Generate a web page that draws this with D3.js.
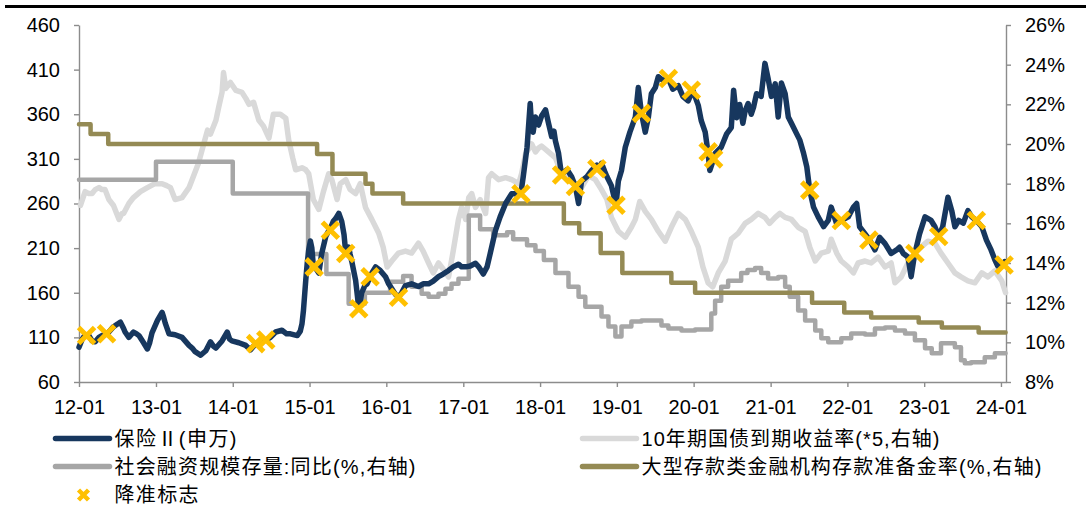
<!DOCTYPE html>
<html>
<head>
<meta charset="utf-8">
<script src="https://cdn.jsdelivr.net/npm/d3@7"></script>
<style>
  body { margin: 0; background: #fff; }
  svg text { font-family: "Liberation Sans", Arial, "Noto Sans CJK SC", sans-serif; fill: #000; }
</style>
</head>
<body>
<svg id="chart" width="1091" height="507"></svg>
<script>
// values; time as decimal year
const insurance = [
  [2012.00,99],[2012.04,108],[2012.08,113],[2012.13,112],[2012.17,106],[2012.21,105],[2012.26,110],[2012.30,112],
  [2012.36,114],[2012.39,116],[2012.45,122],[2012.50,125],[2012.54,127],[2012.58,120],[2012.60,116],[2012.65,110],
  [2012.71,116],[2012.75,114],[2012.78,112],[2012.84,104],[2012.89,97],[2012.92,104],[2012.95,115],[2013.02,129],
  [2013.08,138],[2013.10,133],[2013.12,126],[2013.17,114],[2013.25,113],[2013.34,110],[2013.43,101],[2013.47,98],
  [2013.51,94],[2013.58,90],[2013.65,95],[2013.71,105],[2013.75,100],[2013.78,98],[2013.86,106],[2013.93,116],
  [2013.96,108],[2013.99,106],[2014.08,104],[2014.17,101],[2014.23,96],[2014.30,103],[2014.36,106],[2014.43,107],
  [2014.49,110],[2014.56,116],[2014.64,118],[2014.70,114],[2014.75,114],[2014.84,112],[2014.88,117],[2014.90,125],
  [2014.92,140],[2014.95,174],[2014.97,193],[2014.99,208],[2015.01,218],[2015.03,210],[2015.05,190],[2015.09,186],
  [2015.12,182],[2015.16,204],[2015.21,223],[2015.24,228],[2015.27,232],[2015.31,240],[2015.34,243],[2015.38,249],
  [2015.42,240],[2015.45,225],[2015.47,205],[2015.51,211],[2015.53,203],[2015.55,195],[2015.60,174],[2015.64,143],
  [2015.66,150],[2015.68,160],[2015.72,168],[2015.75,170],[2015.79,178],[2015.81,182],[2015.86,189],[2015.92,185],
  [2015.99,178],[2016.03,170],[2016.09,162],[2016.12,158],[2016.16,155],[2016.20,160],[2016.25,168],[2016.33,170],
  [2016.42,167],[2016.48,170],[2016.55,170],[2016.61,173],[2016.68,178],[2016.74,181],[2016.81,185],[2016.87,189],
  [2016.94,192],[2016.98,189],[2017.03,189],[2017.09,190],[2017.16,193],[2017.20,189],[2017.26,181],[2017.31,189],
  [2017.35,204],[2017.42,230],[2017.48,245],[2017.55,260],[2017.63,271],[2017.70,271],[2017.75,272],[2017.78,290],
  [2017.83,323],[2017.87,372],[2017.89,345],[2017.91,340],[2017.94,357],[2017.96,350],[2017.98,348],[2018.02,358],
  [2018.07,365],[2018.11,350],[2018.15,335],[2018.18,341],[2018.20,330],[2018.24,316],[2018.28,292],[2018.31,295],
  [2018.35,298],[2018.41,290],[2018.46,279],[2018.50,260],[2018.54,285],[2018.61,290],[2018.67,297],[2018.74,303],
  [2018.78,300],[2018.80,305],[2018.84,296],[2018.87,290],[2018.93,280],[2018.99,258],[2019.02,285],[2019.06,297],
  [2019.11,323],[2019.17,340],[2019.24,357],[2019.28,390],[2019.32,361],[2019.37,340],[2019.41,357],[2019.45,383],
  [2019.50,390],[2019.54,402],[2019.60,398],[2019.67,400],[2019.73,388],[2019.80,392],[2019.86,380],[2019.93,375],
  [2019.99,387],[2020.06,370],[2020.10,353],[2020.15,340],[2020.19,316],[2020.21,297],[2020.26,310],[2020.28,316],
  [2020.36,323],[2020.43,338],[2020.49,345],[2020.52,387],[2020.56,356],[2020.60,371],[2020.64,350],[2020.67,364],
  [2020.71,372],[2020.75,360],[2020.78,368],[2020.82,383],[2020.88,380],[2020.93,417],[2020.97,400],[2021.01,380],
  [2021.06,394],[2021.10,357],[2021.14,395],[2021.19,383],[2021.23,357],[2021.27,350],[2021.34,338],[2021.38,331],
  [2021.43,316],[2021.47,301],[2021.51,275],[2021.56,256],[2021.62,245],[2021.69,234],[2021.75,241],[2021.79,256],
  [2021.86,237],[2021.92,241],[2022.01,245],[2022.08,256],[2022.12,260],[2022.16,234],[2022.23,226],[2022.29,219],
  [2022.36,208],[2022.42,222],[2022.49,215],[2022.57,204],[2022.64,208],[2022.68,211],[2022.73,204],[2022.79,200],
  [2022.83,178],[2022.86,195],[2022.88,204],[2022.94,226],[2023.01,245],[2023.09,241],[2023.14,234],[2023.19,223],
  [2023.24,234],[2023.31,267],[2023.36,252],[2023.40,234],[2023.45,241],[2023.51,238],[2023.57,252],[2023.62,245],
  [2023.68,241],[2023.75,234],[2023.81,219],[2023.87,208],[2023.92,197],[2023.96,190],[2024.03,191],[2024.05,195]
];

// 10y government bond yield x5, right axis
const bond10y = [
  [2012.02,16.9],[2012.08,17.6],[2012.13,17.5],[2012.17,17.5],[2012.21,17.7],[2012.26,17.8],[2012.30,17.7],[2012.34,17.7],
  [2012.39,17.2],[2012.45,16.9],[2012.49,16.5],[2012.52,16.2],[2012.56,16.5],[2012.58,16.5],[2012.65,17.0],[2012.71,17.3],
  [2012.80,17.6],[2012.89,17.8],[2012.99,18.0],[2013.08,18.0],[2013.14,17.9],[2013.19,17.8],[2013.25,17.2],[2013.34,17.3],
  [2013.43,17.8],[2013.49,18.4],[2013.55,19.0],[2013.60,19.7],[2013.67,20.7],[2013.71,20.5],[2013.78,21.2],[2013.82,21.9],
  [2013.86,22.6],[2013.88,23.6],[2013.91,22.8],[2013.93,22.9],[2013.97,23.1],[2014.04,22.7],[2014.12,22.6],[2014.17,22.3],
  [2014.21,22.0],[2014.27,22.1],[2014.34,21.2],[2014.40,20.9],[2014.47,20.3],[2014.53,21.5],[2014.62,21.5],[2014.69,21.3],
  [2014.73,20.2],[2014.78,19.3],[2014.82,18.7],[2014.90,18.8],[2014.95,18.7],[2014.99,18.5],[2015.05,17.2],[2015.12,16.7],
  [2015.18,17.6],[2015.25,18.5],[2015.29,18.2],[2015.36,17.2],[2015.40,18.0],[2015.47,18.2],[2015.53,17.7],[2015.60,17.5],
  [2015.66,18.0],[2015.73,16.8],[2015.81,16.2],[2015.90,15.5],[2015.96,14.8],[2016.01,13.8],[2016.07,14.1],[2016.16,14.5],
  [2016.25,14.6],[2016.33,14.5],[2016.42,15.0],[2016.48,14.6],[2016.55,14.0],[2016.61,13.5],[2016.68,14.0],[2016.74,13.7],
  [2016.81,13.3],[2016.87,14.6],[2016.94,16.2],[2016.98,16.8],[2017.03,16.2],[2017.07,17.3],[2017.11,17.5],[2017.16,16.8],
  [2017.22,17.2],[2017.29,16.5],[2017.33,18.3],[2017.37,18.5],[2017.46,18.2],[2017.55,18.3],[2017.63,18.2],[2017.72,18.0],
  [2017.76,18.5],[2017.81,19.5],[2017.89,20.0],[2017.94,19.6],[2017.98,19.8],[2018.02,19.9],[2018.11,19.6],[2018.20,19.3],
  [2018.28,18.5],[2018.37,18.2],[2018.46,18.0],[2018.54,17.8],[2018.63,18.4],[2018.72,18.2],[2018.80,17.7],[2018.87,17.2],
  [2018.93,16.3],[2019.02,15.6],[2019.11,15.3],[2019.19,15.8],[2019.24,16.2],[2019.30,17.1],[2019.37,16.6],[2019.45,16.2],
  [2019.54,15.6],[2019.63,15.1],[2019.71,15.8],[2019.80,16.5],[2019.89,16.2],[2019.97,15.6],[2020.06,14.8],[2020.12,13.8],
  [2020.19,13.0],[2020.25,12.8],[2020.32,13.5],[2020.41,14.1],[2020.49,15.2],[2020.58,15.5],[2020.67,16.0],[2020.75,16.2],
  [2020.84,16.5],[2020.93,16.3],[2020.99,16.0],[2021.06,16.3],[2021.12,16.5],[2021.19,16.3],[2021.27,16.2],[2021.36,15.8],
  [2021.45,15.6],[2021.51,14.8],[2021.58,14.1],[2021.66,14.5],[2021.75,14.6],[2021.79,15.2],[2021.86,14.5],[2021.92,14.1],
  [2022.01,13.8],[2022.08,13.5],[2022.14,14.0],[2022.23,14.1],[2022.31,14.0],[2022.40,14.3],[2022.49,13.8],[2022.57,14.0],
  [2022.62,13.0],[2022.70,13.3],[2022.79,14.0],[2022.88,14.5],[2022.96,14.8],[2023.05,15.1],[2023.14,15.0],[2023.22,14.5],
  [2023.31,14.0],[2023.40,13.5],[2023.48,13.3],[2023.57,13.1],[2023.66,13.0],[2023.75,13.5],[2023.83,13.3],[2023.92,13.6],
  [2024.01,13.1],[2024.06,12.5]
];

// social financing stock yoy (%), step values from each date on
const tsfYoy = [
  [2012.00,18.2],[2013.00,19.1],[2014.00,17.5],[2014.98,14.45],[2015.22,13.45],[2015.51,11.95],[2015.72,12.5],
  [2016.05,13.05],[2016.22,13.35],[2016.33,12.8],[2016.46,12.45],[2016.55,12.3],[2016.68,12.45],[2016.77,12.7],
  [2016.85,12.95],[2016.94,13.2],[2017.07,16.4],[2017.22,15.7],[2017.39,15.4],[2017.57,15.55],[2017.65,15.2],
  [2017.83,14.9],[2017.94,14.6],[2018.05,14.15],[2018.20,13.5],[2018.37,12.8],[2018.50,12.3],[2018.59,11.8],
  [2018.80,11.3],[2018.89,10.8],[2018.98,10.3],[2019.06,10.8],[2019.19,11.05],[2019.32,11.1],[2019.58,10.85],
  [2019.67,10.7],[2019.84,10.6],[2020.02,10.65],[2020.23,11.45],[2020.28,12.1],[2020.36,12.8],[2020.45,13.1],
  [2020.62,13.5],[2020.70,13.65],[2020.80,13.75],[2020.88,13.5],[2020.97,13.22],[2021.10,13.3],[2021.19,12.8],
  [2021.25,12.3],[2021.36,11.6],[2021.45,11.1],[2021.58,10.6],[2021.66,10.2],[2021.75,10.0],[2021.92,10.2],
  [2022.05,10.45],[2022.23,10.4],[2022.36,10.7],[2022.49,10.75],[2022.62,10.6],[2022.75,10.45],[2022.88,10.1],
  [2023.01,9.7],[2023.10,9.45],[2023.22,9.95],[2023.40,9.75],[2023.48,9.1],[2023.53,8.95],[2023.61,9.0],
  [2023.79,9.25],[2023.92,9.45],[2024.06,9.45]
];

// large bank reserve requirement ratio (%)
const rrr = [
  [2012.00,21.0],[2012.15,20.5],[2012.38,20.0],[2015.10,19.5],[2015.30,18.5],[2015.73,18.0],[2015.82,17.5],
  [2016.22,17.0],[2018.31,16.0],[2018.51,15.5],[2018.79,14.5],[2019.07,13.5],[2019.71,13.0],[2020.02,12.5],
  [2021.54,12.0],[2021.96,11.5],[2022.31,11.25],[2022.93,11.0],[2023.23,10.75],[2023.71,10.5],[2024.06,10.5]
];

// RRR cut announcement dates, plotted on the insurance index
const cutMarks = [
  [2012.10,112],[2012.36,114],[2014.30,103],[2014.43,107],[2015.06,189],[2015.27,230],[2015.47,204],
  [2015.64,142],[2015.79,178],[2016.16,155],[2017.75,271],[2018.28,292],[2018.46,279],[2018.74,299],
  [2018.99,258],[2019.32,361],[2019.67,400],[2019.97,387],[2020.19,318],[2020.26,310],[2021.51,275],
  [2021.92,241],[2022.28,219],[2022.88,204],[2023.19,223],[2023.68,241],[2024.04,191]
];

const yearTicks = d3.range(2012, 2025);
const leftTicks = d3.range(60, 461, 50);
const rightTicks = d3.range(8, 27, 2);

const legendItems = [
  { label: "保险Ⅱ(申万)", color: "#17375E", kind: "line", col: 0, row: 0, width: 122 },
  { label: "10年期国债到期收益率(*5,右轴)", color: "#D9D9D9", kind: "line", col: 1, row: 0, width: 298 },
  { label: "社会融资规模存量:同比(%,右轴)", color: "#A6A6A6", kind: "line", col: 0, row: 1, width: 301 },
  { label: "大型存款类金融机构存款准备金率(%,右轴)", color: "#948A54", kind: "line", col: 1, row: 1, width: 400 },
  { label: "降准标志", color: "#FFC000", kind: "mark", col: 0, row: 2, width: 84 }
];

function toDate(t) {
  const y = Math.floor(t);
  return new Date(y, 0, 1 + Math.round((t - y) * 365));
}

const svg = d3.select("#chart");
const W = 1091, H = 507;
const plot = { left: 79, right: 1006, top: 25, bottom: 382 };

svg.append("rect").attr("width", W).attr("height", H).attr("fill", "#fff");
// heavy rule across the top
svg.append("rect").attr("x", 5).attr("y", 5).attr("width", 1081).attr("height", 3).attr("fill", "#000");

const x = d3.scaleTime()
  .domain([toDate(2012), toDate(2024.065)])
  .range([plot.left, plot.right]);
const yL = d3.scaleLinear().domain([60, 460]).range([plot.bottom, plot.top]);
const yR = d3.scaleLinear().domain([8, 26]).range([plot.bottom, plot.top]);

const axisColor = "#8C8C8C";
function styleAxis(g) {
  g.select(".domain").attr("stroke", axisColor).attr("stroke-width", 1.4);
  g.selectAll(".tick line").attr("stroke", axisColor).attr("stroke-width", 1.4);
  g.selectAll(".tick text").attr("font-size", 20).attr("fill", "#000");
}

svg.append("g")
  .attr("transform", `translate(0,${plot.bottom})`)
  .call(d3.axisBottom(x)
    .tickValues(yearTicks.map(y => new Date(y, 0, 1)))
    .tickFormat(d => String(d.getFullYear()).slice(2) + "-01")
    .tickSize(5).tickSizeOuter(0).tickPadding(13))
  .call(styleAxis);

svg.append("g")
  .attr("transform", `translate(${plot.left},0)`)
  .call(d3.axisLeft(yL).tickValues(leftTicks).tickSize(5).tickSizeOuter(0).tickPadding(14))
  .call(styleAxis);

svg.append("g")
  .attr("transform", `translate(${plot.right},0)`)
  .call(d3.axisRight(yR).tickValues(rightTicks).tickFormat(d => d + "%")
    .tickSize(5).tickSizeOuter(0).tickPadding(14))
  .call(styleAxis);

const lineR = d3.line().x(d => x(toDate(d[0]))).y(d => yR(d[1]));
const stepR = d3.line().curve(d3.curveStepAfter).x(d => x(toDate(d[0]))).y(d => yR(d[1]));
const lineL = d3.line().x(d => x(toDate(d[0]))).y(d => yL(d[1]));

const series = svg.append("g").attr("fill", "none")
  .attr("stroke-linejoin", "round").attr("stroke-linecap", "round");

series.append("path").datum(bond10y).attr("d", lineR)
  .attr("stroke", "#D9D9D9").attr("stroke-width", 5.5);
series.append("path").datum(tsfYoy).attr("d", stepR)
  .attr("stroke", "#A6A6A6").attr("stroke-width", 4.5);
series.append("path").datum(rrr).attr("d", stepR)
  .attr("stroke", "#948A54").attr("stroke-width", 4.5);
series.append("path").datum(insurance).attr("d", lineL)
  .attr("stroke", "#17375E").attr("stroke-width", 5.5);

const cross = (r) => `M${-r},${-r}L${r},${r}M${-r},${r}L${r},${-r}`;

svg.append("g").selectAll("path")
  .data(cutMarks)
  .join("path")
  .attr("transform", d => `translate(${x(toDate(d[0]))},${yL(d[1])})`)
  .attr("d", cross(8))
  .attr("stroke", "#FFC000")
  .attr("stroke-width", 5)
  .attr("fill", "none");

// legend
const legend = svg.append("g");
const colX = [55.5, 582.5];
const rowY = [438.5, 466.5, 495];
legendItems.forEach(it => {
  const lx = colX[it.col], ly = rowY[it.row];
  if (it.kind === "line") {
    legend.append("line")
      .attr("x1", lx).attr("x2", lx + 54).attr("y1", ly).attr("y2", ly)
      .attr("stroke", it.color).attr("stroke-width", 5.5).attr("stroke-linecap", "round");
  } else {
    legend.append("path")
      .attr("transform", `translate(${lx + 28},${ly})`)
      .attr("d", cross(5))
      .attr("stroke", it.color).attr("stroke-width", 4.5).attr("fill", "none");
  }
  legend.append("text")
    .attr("x", lx + 59).attr("y", ly).attr("dy", "0.36em")
    .attr("font-size", 20)
    .attr("textLength", it.width).attr("lengthAdjust", "spacing")
    .text(it.label);
});
</script>
</body>
</html>
